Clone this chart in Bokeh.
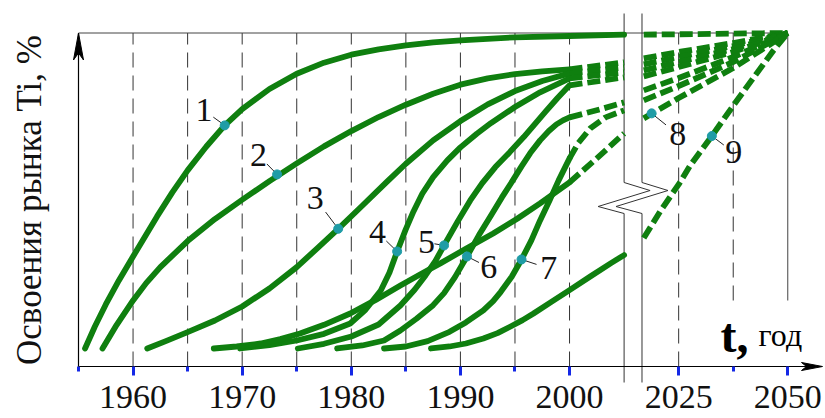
import numpy as np
from bokeh.plotting import figure
from bokeh.models import Range1d, FixedTicker
from bokeh.core.properties import value
from bokeh.embed import file_html
from bokeh.resources import INLINE

# ---------------- data (year, % of Ti market) ----------------
major_tick_years = [1960, 1970, 1980, 1990, 2000, 2025, 2050]
major_tick_labels = ["1960", "1970", "1980", "1990", "2000", "2025", "2050"]
minor_tick_years = [1955, 1965, 1975, 1985, 1995, 2037.5]
grid_years_full = [1960, 1965, 1970, 1975, 1980, 1985, 1990, 1995, 2000, 2025]
grid_years_short = [2037.5]
frame_year_right = 2050
break_years = [2005, 2016.6]

c1_x = [1955.6, 1956.5, 1957.5, 1958.7, 1960.0, 1961.1, 1962.2, 1963.6, 1965.0, 1966.7, 1968.4, 1970.0,
        1972.5, 1975.0, 1977.5, 1980.0, 1982.5, 1985.0, 1987.5, 1990.0, 1995.0, 2000.0, 2005.0]
c1_y = [5.4, 12.0, 18.6, 25.8, 33.0, 39.0, 45.0, 52.2, 58.8, 65.9, 72.3, 77.2,
        83.2, 87.8, 91.1, 93.5, 95.1, 96.3, 97.2, 97.8, 98.7, 99.1, 99.5]
c1_dx, c1_dy = [], []
c1_rx, c1_ry = [2017, 2050], [99.5, 100]

c2_x = [1957.2, 1958.5, 1960.0, 1961.2, 1962.5, 1965.0, 1967.5, 1970.0, 1972.5, 1975.0, 1977.5,
        1980.0, 1982.5, 1985.0, 1987.5, 1990.0, 1992.5, 1995.0, 1997.5, 2000.0]
c2_y = [5.4, 12.5, 19.8, 25.0, 29.8, 37.6, 44.2, 50.0, 55.6, 60.9, 66.0,
        70.6, 74.8, 78.5, 81.8, 84.5, 86.4, 87.7, 88.5, 89.1]
c2_dx, c2_dy = [2000, 2005], [89.1, 91.2]
c2_rx, c2_ry = [2017, 2025, 2037.5, 2050], [92.4, 94.3, 97.0, 100]

c3_x = [1961.3, 1963.0, 1965.0, 1967.5, 1970.0, 1972.5, 1975.0, 1977.0, 1978.8, 1981.0, 1983.3,
        1985.0, 1987.5, 1990.0, 1992.5, 1995.0, 1997.5, 2000.0]
c3_y = [5.4, 7.6, 10.3, 13.8, 18.0, 23.4, 29.8, 35.8, 41.3, 48.2, 55.5,
        60.8, 67.8, 73.6, 78.6, 82.6, 85.6, 87.9]
c3_dx, c3_dy = [2000, 2005], [87.9, 89.7]
c3_rx, c3_ry = [2017, 2025, 2037.5, 2050], [90.6, 92.8, 96.1, 100]

c4_x = [1969.8, 1972.5, 1975.0, 1977.5, 1979.9, 1981.3, 1982.7, 1983.5, 1984.2, 1985.0, 1985.7,
        1986.5, 1987.5, 1988.8, 1990.0, 1991.5, 1992.8, 1995.0, 1997.3, 2000.0]
c4_y = [5.4, 6.4, 7.8, 9.8, 12.9, 17.0, 22.8, 28.2, 34.5, 41.2, 46.5,
        51.8, 56.8, 61.8, 65.7, 69.8, 73.0, 77.8, 82.2, 86.4]
c4_dx, c4_dy = [2000, 2005], [86.4, 88.2]
c4_rx, c4_ry = [2017, 2025, 2037.5, 2050], [88.8, 91.3, 95.2, 100]

c5_x = [1975.1, 1977.5, 1980.0, 1982.5, 1984.5, 1985.8, 1986.8, 1987.7, 1988.5, 1989.7, 1990.9,
        1992.0, 1993.2, 1994.5, 1995.8, 1996.8, 1997.8, 1998.9, 2000.0]
c5_y = [5.4, 6.8, 9.0, 12.6, 18.3, 23.0, 27.3, 31.6, 36.3, 43.2, 49.8,
        55.0, 59.8, 64.2, 68.8, 72.6, 76.4, 80.5, 84.3]
c5_dx, c5_dy = [2000, 2005], [84.3, 86.7]
c5_rx, c5_ry = [2017, 2025, 2037.5, 2050], [87.0, 89.8, 94.3, 100]

c6_x = [1978.7, 1981.0, 1983.0, 1984.5, 1986.0, 1987.5, 1988.5, 1989.5, 1990.6, 1991.7, 1992.8,
        1993.8, 1994.8, 1995.6, 1996.4, 1997.3, 1998.1, 1998.8, 1999.4, 2000.0]
c6_y = [5.4, 6.3, 7.8, 10.8, 14.4, 18.4, 22.0, 26.8, 33.0, 39.4, 45.3,
        50.7, 55.8, 60.0, 64.0, 67.8, 70.6, 72.6, 73.8, 74.7]
c6_dx, c6_dy = [2000, 2002.8, 2005], [74.7, 77.1, 79.2]
c6_rx, c6_ry = [2017, 2025, 2037.5, 2050], [82.8, 86.5, 92.8, 100]

c7_x = [1983.0, 1985.0, 1987.0, 1989.0, 1990.5, 1992.1, 1993.0, 1993.7, 1994.7, 1995.6, 1996.5,
        1997.3, 1998.2, 1999.0, 2000.0]
c7_y = [5.4, 6.0, 7.6, 10.4, 13.2, 16.8, 19.6, 22.4, 26.9, 32.1, 37.8,
        43.8, 50.0, 55.8, 62.4]
c7_dx, c7_dy = [2000, 2000.8, 2001.9, 2003.3, 2005], [62.4, 67.0, 71.4, 74.7, 76.8]
c7_rx, c7_ry = [2017, 2025, 2037.5, 2050], [79.8, 84.1, 91.3, 100]

c8_x = [1967.4, 1969.5, 1971.7, 1973.5, 1975.3, 1977.5, 1979.9, 1982.2, 1984.5, 1986.3, 1988.2,
        1990.5, 1993.0, 1995.2, 1997.3, 2000.0]
c8_y = [5.4, 6.0, 6.9, 8.2, 9.9, 12.5, 15.9, 19.9, 24.3, 27.6, 31.0,
        35.3, 39.9, 44.3, 48.9, 55.2]
c8_dx, c8_dy = [2000, 2002.8, 2005], [55.2, 63.3, 69.9]
c8_rx, c8_ry = [2017, 2025, 2037.5, 2050], [74.4, 80.5, 89.5, 100]

c9_x = [1987.3, 1989.0, 1990.5, 1992.1, 1993.4, 1994.6, 1995.7, 1996.7, 1998.3, 2000.0, 2001.9,
        2003.8, 2005.0]
c9_y = [5.4, 6.0, 6.9, 8.4, 10.0, 12.0, 13.9, 15.9, 19.3, 22.9, 27.0,
        31.0, 33.4]
c9_dx, c9_dy = [], []
c9_rx = [2017, 2020.9, 2025, 2027.7, 2032.6, 2037.6, 2042.6, 2046.8, 2050]
c9_ry = [38.5, 46.8, 54.6, 60.4, 69.1, 78.4, 87.4, 94.9, 100]

marker_years = [1968.4, 1973.2, 1978.8, 1984.2, 1988.5, 1990.6, 1995.6, 2018.8, 2032.6]
marker_pct = [72.3, 57.6, 41.3, 34.5, 36.3, 33.0, 32.1, 75.9, 69.1]
label_years = [1966.5, 1971.5, 1976.7, 1982.4, 1986.9, 1992.6, 1998.1, 2024.8, 2037.6]
label_pct = [76.8, 63.3, 50.4, 40.2, 37.2, 29.7, 29.4, 69.6, 64.2]
label_text = ["1", "2", "3", "4", "5", "6", "7", "8", "9"]

y_title = "Освоения рынка Ti, %"
x_title_main = "t,"
x_title_unit = "год"

# ---------------- broken time scale ----------------
def yr2u(y):
    y = np.asarray(y, dtype=float)
    return np.where(y <= 2010, (y - 1955) / 5.0, 11 + (y - 2025) / 12.5)

PX_U = 54.56   # pixels per scale unit
PX_P = 3.335   # pixels per percent
W, H = 825, 418
X0 = 78        # pixel of u = 0
Y0 = 366       # pixel of 0 % from the top

p = figure(width=W, height=H, output_backend="svg", toolbar_location=None,
           x_range=Range1d(-X0 / PX_U, (W - X0) / PX_U),
           y_range=Range1d(-(H - Y0) / PX_P, Y0 / PX_P),
           min_border=0, min_border_left=0, min_border_right=0,
           min_border_top=0, min_border_bottom=0)
p.outline_line_color = None
p.grid.visible = False
p.background_fill_color = "white"

GREEN = "#0f7f0f"
TEAL = "#1f9ca6"
BLUE = "#1428e6"
SERIF = "Liberation Serif"

def px_y(py):
    return (Y0 - py) / PX_P

# grid / frame lines
gx = yr2u(grid_years_full)
p.segment(x0=gx, y0=[0] * len(gx), x1=gx, y1=[100] * len(gx),
          line_color="#333333", line_width=1, line_dash="15 8")
gs = yr2u(grid_years_short)
low_end = px_y(300)
p.segment(x0=gs, y0=[low_end] * len(gs), x1=gs, y1=[100] * len(gs),
          line_color="#333333", line_width=1, line_dash="15 8")
ur = float(yr2u(frame_year_right))
p.segment(x0=[ur], y0=[low_end], x1=[ur], y1=[100], line_color="#444444", line_width=1)
p.segment(x0=[0], y0=[100], x1=[ur], y1=[100], line_color="#444444", line_width=1)

# break marks
for by in break_years:
    bx = float(yr2u(by)) if by <= 2010 else float(11 + (by - 2025) / 12.5)
    zx = [bx, bx, bx + 26 / PX_U, bx - 26 / PX_U, bx, bx]
    zy = [px_y(13), px_y(182), px_y(190), px_y(206), px_y(213), px_y(382)]
    p.line(zx, zy, line_color="#333333", line_width=1)

# curves
curves = [
    (c1_x, c1_y, c1_dx, c1_dy, c1_rx, c1_ry),
    (c2_x, c2_y, c2_dx, c2_dy, c2_rx, c2_ry),
    (c3_x, c3_y, c3_dx, c3_dy, c3_rx, c3_ry),
    (c4_x, c4_y, c4_dx, c4_dy, c4_rx, c4_ry),
    (c5_x, c5_y, c5_dx, c5_dy, c5_rx, c5_ry),
    (c6_x, c6_y, c6_dx, c6_dy, c6_rx, c6_ry),
    (c7_x, c7_y, c7_dx, c7_dy, c7_rx, c7_ry),
    (c8_x, c8_y, c8_dx, c8_dy, c8_rx, c8_ry),
    (c9_x, c9_y, c9_dx, c9_dy, c9_rx, c9_ry),
]
LW = 5.8
for sx, sy, dx, dy, rx, ry in curves:
    p.line(yr2u(sx), sy, line_color=GREEN, line_width=LW, line_cap="round", line_join="round")
    if dx:
        p.line(yr2u(dx), dy, line_color=GREEN, line_width=LW, line_dash="13 5", line_join="round")
    if rx:
        p.line(yr2u(rx), ry, line_color=GREEN, line_width=LW, line_dash="13 5", line_join="round")

# markers, leaders, numbers
mu = yr2u(marker_years)
lu = yr2u(label_years)
mp = np.array(marker_pct)
lp = np.array(label_pct)
p.segment(x0=mu, y0=mp, x1=mu + 0.55 * (lu - mu), y1=mp + 0.55 * (lp - mp),
          line_color="#222222", line_width=1)
p.scatter(mu, mp, size=9, color=TEAL)
p.text(lu, lp, text=label_text, text_font=value(SERIF), text_font_size=value("34px"),
       text_align="center", text_baseline="middle", text_color="#111111")

# axis arrowheads
tipx = (822 - X0) / PX_U
p.patch([tipx, tipx - 21 / PX_U, tipx - 16 / PX_U, tipx - 21 / PX_U],
        [0, 4 / PX_P, 0, -4 / PX_P], color="black")
p.patch([0, 5 / PX_U, 0, -5 / PX_U],
        [100, 100 - 27 / PX_P, 100 - 20 / PX_P, 100 - 27 / PX_P], color="black")

# x title
p.text([(720 - X0) / PX_U], [px_y(335)], text=[x_title_main],
       text_font=value(SERIF), text_font_size=value("48px"), text_font_style="bold",
       text_baseline="alphabetic", text_align="left", text_color="black")
p.text([(758 - X0) / PX_U], [px_y(334)], text=[x_title_unit],
       text_font=value(SERIF), text_font_size=value("32px"),
       text_baseline="alphabetic", text_align="left", text_color="black")

# axes
xa = p.xaxis[0]
xa.fixed_location = 0
xa.bounds = (0, tipx - 2 / PX_U)
major_u = [float(v) for v in yr2u(major_tick_years)]
minor_u = [float(v) for v in yr2u(minor_tick_years)]
xa.ticker = FixedTicker(ticks=major_u, minor_ticks=minor_u)
xa.major_label_overrides = {u: lab for u, lab in zip(major_u, major_tick_labels)}
xa.axis_line_color = "black"
xa.axis_line_width = 1.2
xa.major_tick_line_color = BLUE
xa.major_tick_line_width = 3
xa.major_tick_in = 0
xa.major_tick_out = 9
xa.minor_tick_line_color = BLUE
xa.minor_tick_line_width = 3
xa.minor_tick_in = 0
xa.minor_tick_out = 5
xa.major_label_text_font = SERIF
xa.major_label_text_font_size = "34px"
xa.major_label_text_color = "#111111"
xa.major_label_standoff = 10

ya = p.yaxis[0]
ya.fixed_location = 0
ya.bounds = (0, 100)
ya.ticker = FixedTicker(ticks=[])
ya.major_tick_in = 0
ya.major_tick_out = 0
ya.minor_tick_in = 0
ya.minor_tick_out = 0
ya.axis_line_color = "black"
ya.axis_line_width = 1.2
ya.axis_label = y_title
ya.axis_label_text_font = SERIF
ya.axis_label_text_font_size = "35px"
ya.axis_label_text_font_style = "normal"
ya.axis_label_text_color = "#111111"
ya.axis_label_standoff = 30

open("out.html", "w").write(file_html(p, INLINE))
